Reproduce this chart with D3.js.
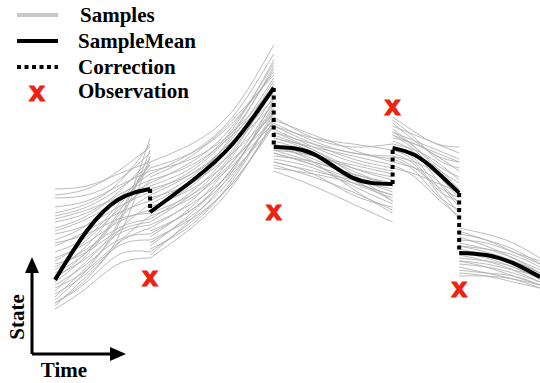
<!DOCTYPE html>
<html>
  <head>
    <meta charset='utf-8' />
    <script src="https://d3js.org/d3.v7.min.js"></script>
    <style>
    body { margin: 0; background: #fff; }
    text.lbl {
      font-family: "Liberation Serif", "Times New Roman", serif;
      font-weight: bold;
      font-size: 21px;
    }
    text.obs {
      font-family: "Liberation Sans", Arial, sans-serif;
      font-weight: bold;
      font-size: 28px;
      fill: #ee2211;
      stroke: #ee2211;
      stroke-width: 1.2px;
    }
    </style>
  </head>
  <body>
    <div id="chart"></div>
    <script>
// time at each correction step (segment edges)
var stepTimes = [0, 1, 2.3, 3.55, 4.25, 5.1];

// sample mean, 4 points per segment
var meanSeg = [
  [1.67, 3.3, 4.35, 4.7],
  [3.93, 4.95, 6.2, 8.07],
  [6.1, 5.87, 5.07, 4.87],
  [6.07, 5.83, 5.27, 4.57],
  [2.57, 2.5, 2.23, 1.77]
];

// observations at the step times 1..4
var obsTimes = [1, 2.3, 3.55, 4.25];
var obsValues = [1.8, 4.0, 7.5, 1.43];

// sample trajectories, per segment
var samples1 = [
  [4.7,4.8,5.2,5.6],[4.4,4.5,5.0,5.9],[4.1,4.3,4.8,5.3],[3.9,4.2,4.9,6.2],
  [3.6,3.9,4.5,5.0],[3.4,3.8,4.6,5.7],[3.2,3.5,4.1,4.6],[3.0,3.5,4.4,5.2],
  [2.8,3.3,3.9,4.3],[2.6,3.1,4.2,5.5],[2.4,2.9,3.6,4.0],[2.3,3.0,4.0,4.8],
  [2.1,2.7,3.4,3.7],[1.9,2.6,3.8,5.0],[1.8,2.4,3.2,3.5],[1.6,2.5,3.7,4.5],
  [1.5,2.2,3.0,3.2],[1.3,2.3,3.6,6.4],[1.2,1.9,2.8,3.0],[1.0,2.0,3.3,4.2],
  [0.9,1.6,2.5,2.6],[0.8,1.8,3.1,5.8],[0.7,1.4,2.2,2.4],[1.1,2.1,3.5,6.0],
  [4.5,4.7,5.3,6.1],[2.0,2.8,4.1,5.4],[3.7,4.0,4.4,4.7],[1.4,2.0,2.9,3.4],
  [2.9,3.2,3.7,3.9],[1.7,2.6,3.9,5.6],[3.3,3.7,4.3,4.9],[0.9,1.7,2.9,3.8],
  [2.2,2.6,3.3,3.6],[3.8,4.1,4.7,5.5]
];
var samples2 = [
  [5.6,6.2,7.3,9.5],[5.4,5.9,6.9,8.6],[5.2,5.9,7.1,9.2],[5.0,5.5,6.5,7.9],
  [4.9,5.6,6.8,8.9],[4.7,5.2,6.2,7.5],[4.6,5.3,6.6,8.7],[4.4,4.9,5.9,7.2],
  [4.3,5.1,6.4,8.4],[4.1,4.7,5.7,7.0],[4.0,4.8,6.2,8.3],[3.8,4.4,5.5,6.9],
  [3.7,4.6,6.0,8.0],[3.5,4.2,5.3,6.8],[3.4,4.3,5.8,7.8],[3.2,4.0,5.2,7.1],
  [3.1,4.1,5.6,7.6],[2.9,3.8,5.1,7.3],[2.8,3.9,5.4,7.4],[2.6,3.6,4.9,6.8],
  [2.5,3.7,5.3,7.7],[2.4,3.4,4.8,7.0],[4.8,5.4,6.7,9.0],[3.6,4.5,5.9,8.2],
  [5.3,5.7,6.6,8.1],[3.0,3.7,4.9,6.9],[4.2,5.0,6.5,8.8],[4.5,5.2,6.3,7.7],
  [3.3,4.0,5.4,7.5],[5.1,5.8,7.0,8.5],[2.7,3.5,5.0,7.2],[3.9,4.5,5.6,7.3]
];
var samples3 = [
  [7.1,6.4,6.1,6.2],[6.9,6.3,5.9,5.8],[6.8,6.4,6.2,6.0],[6.7,6.1,5.6,5.3],
  [6.6,6.2,5.9,5.7],[6.5,6.0,5.4,5.0],[6.4,6.1,5.8,5.5],[6.3,5.9,5.3,4.8],
  [6.2,5.8,5.5,5.2],[6.1,5.7,5.1,4.6],[6.0,5.8,5.4,5.1],[5.9,5.5,4.9,4.4],
  [5.8,5.6,5.2,4.9],[5.7,5.4,4.8,4.2],[5.6,5.3,5.0,4.7],[5.5,5.1,4.6,4.0],
  [5.4,5.2,4.9,4.5],[5.3,4.8,4.2,3.6],[6.6,6.0,5.2,4.3],[6.2,5.6,4.7,3.9],
  [5.9,5.5,5.0,4.3],[7.0,6.5,6.0,5.6],[6.4,5.9,5.0,4.5],[5.6,5.2,4.5,4.1],
  [6.8,6.2,5.7,5.4],[6.0,5.6,5.2,4.8]
];
var samples4 = [
  [7.1,6.6,6.2,6.1],[6.9,6.3,5.8,5.6],[6.8,6.5,6.2,5.9],[6.7,6.1,5.4,4.9],
  [6.6,6.3,6.0,5.7],[6.5,6.0,5.2,4.4],[6.4,6.2,5.8,5.3],[6.3,5.9,5.0,4.1],
  [6.2,6.0,5.6,5.0],[6.1,5.7,4.8,3.9],[6.0,5.8,5.4,4.7],[5.9,5.5,4.6,3.7],
  [5.8,5.6,5.2,4.5],[5.7,5.3,4.5,4.0],[5.6,5.4,5.0,4.2],[5.5,5.1,4.4,3.8],
  [5.4,5.2,4.9,4.6],[6.6,6.1,5.5,5.1],[6.0,5.6,4.7,4.3],[7.0,6.4,5.7,5.4],
  [6.5,6.2,5.9,5.6],[5.8,5.4,4.8,4.4]
];
var samples5 = [
  [3.4,3.2,2.9,2.4],[3.2,3.0,2.6,2.2],[3.0,2.9,2.6,2.3],[2.9,2.7,2.4,2.0],
  [2.8,2.7,2.5,2.1],[2.7,2.5,2.2,1.8],[2.6,2.5,2.3,1.9],[2.5,2.3,2.0,1.6],
  [2.4,2.3,2.1,1.7],[2.3,2.1,1.8,1.5],[2.2,2.1,1.9,1.6],[2.1,1.9,1.7,1.4],
  [2.0,1.9,1.8,1.5],[1.9,1.8,1.6,1.4],[1.8,1.8,1.7,1.5],[3.3,3.0,2.7,2.2],
  [3.1,2.8,2.4,1.9],[2.6,2.4,2.1,1.7],[2.3,2.2,2.0,1.8],[2.8,2.6,2.3,1.9]
];
var sampleSets = [samples1, samples2, samples3, samples4, samples5];

var legendItems = ["Samples", "SampleMean", "Correction", "Observation"];

(function() {
  var width = 540, height = 383;

  var x = d3.scaleLinear().domain([0, 5.1]).range([55, 540]);
  var y = d3.scaleLinear().domain([0, 10]).range([330, 30]);

  var svg = d3.select("#chart").append("svg")
      .attr("width", width)
      .attr("height", height);

  // times of the 4 points inside segment i
  function segTimes(i) {
    var t0 = stepTimes[i], t1 = stepTimes[i + 1];
    return [0, 1, 2, 3].map(function(k) { return t0 + (t1 - t0) * k / 3; });
  }

  var line = d3.line()
      .x(function(d) { return x(d[0]); })
      .y(function(d) { return y(d[1]); })
      .curve(d3.curveNatural);

  function toPts(vals, i) {
    var ts = segTimes(i);
    return vals.map(function(v, k) { return [ts[k], v]; });
  }

  var sampleG = svg.append("g").attr("class", "samples");
  sampleSets.forEach(function(set, i) {
    sampleG.selectAll(".s" + i).data(set).enter()
      .append("path")
        .attr("class", "s" + i)
        .attr("d", function(d) { return line(toPts(d, i)); })
        .style("fill", "none")
        .style("stroke", "#ababab")
        .style("stroke-opacity", 0.8)
        .style("stroke-width", 1);
  });

  // corrections between segments
  svg.append("g").selectAll("line").data(d3.range(meanSeg.length - 1)).enter()
    .append("line")
      .attr("x1", function(i) { return x(stepTimes[i + 1]); })
      .attr("x2", function(i) { return x(stepTimes[i + 1]); })
      .attr("y1", function(i) { return y(meanSeg[i][3]); })
      .attr("y2", function(i) { return y(meanSeg[i + 1][0]); })
      .style("stroke", "#000")
      .style("stroke-width", 4)
      .style("stroke-dasharray", "4,3.5");

  svg.append("g").selectAll("path").data(meanSeg).enter()
    .append("path")
      .attr("d", function(d, i) { return line(toPts(d, i)); })
      .style("fill", "none")
      .style("stroke", "#000")
      .style("stroke-width", 4);

  svg.append("g").selectAll("text").data(obsTimes).enter()
    .append("text")
      .attr("class", "obs")
      .attr("x", function(d) { return x(d); })
      .attr("y", function(d, i) { return y(obsValues[i]); })
      .attr("text-anchor", "middle")
      .attr("dominant-baseline", "central")
      .text("x");

  // legend
  var lg = svg.append("g").attr("class", "legend");
  var rowY = [15, 41, 67, 91];
  lg.append("line").attr("x1", 17).attr("x2", 58).attr("y1", rowY[0]).attr("y2", rowY[0])
    .style("stroke", "#c8c8c8").style("stroke-width", 4);
  lg.append("line").attr("x1", 17).attr("x2", 58).attr("y1", rowY[1]).attr("y2", rowY[1])
    .style("stroke", "#000").style("stroke-width", 4);
  lg.append("line").attr("x1", 17).attr("x2", 58).attr("y1", rowY[2]).attr("y2", rowY[2])
    .style("stroke", "#000").style("stroke-width", 4).style("stroke-dasharray", "4,3.5");
  lg.append("text").attr("class", "obs").attr("x", 37).attr("y", rowY[3])
    .attr("text-anchor", "middle").attr("dominant-baseline", "central").text("x");
  lg.selectAll("text.lbl").data(legendItems).enter()
    .append("text")
      .attr("class", "lbl")
      .attr("x", function(d, i) { return i == 0 ? 80 : 78; })
      .attr("y", function(d, i) { return rowY[i] + 7; })
      .text(function(d) { return d; });

  // schematic axes
  var ax = svg.append("g").attr("class", "axes");
  ax.append("path")
    .attr("d", "M32,354V270M32,354H113")
    .style("fill", "none").style("stroke", "#000").style("stroke-width", 3);
  ax.append("path").attr("d", "M32,257L39,273L25,273Z").style("fill", "#000");
  ax.append("path").attr("d", "M126,354L110,347L110,361Z").style("fill", "#000");
  ax.append("text").attr("class", "lbl")
    .attr("transform", "translate(24,317) rotate(-90)")
    .attr("text-anchor", "middle")
    .text("State");
  ax.append("text").attr("class", "lbl")
    .attr("x", 64).attr("y", 377)
    .attr("text-anchor", "middle")
    .text("Time");
})();
    </script>
</body>
</html>
